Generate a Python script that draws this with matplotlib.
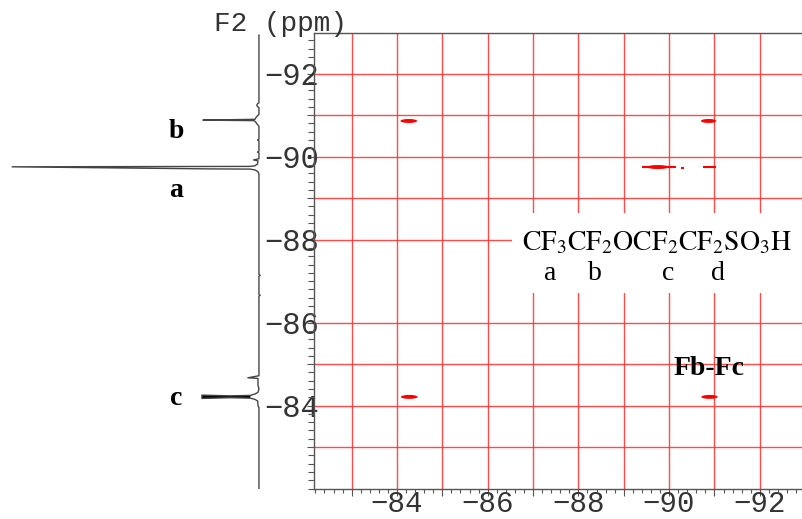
import matplotlib
matplotlib.use("Agg")
import matplotlib.pyplot as plt
from matplotlib.patches import Ellipse, Rectangle
from matplotlib.ticker import FixedLocator, MultipleLocator, NullFormatter

plt.rcParams["mathtext.fontset"] = "stix"

# F1 axis (bottom) / F2 axis (left), ppm
x_lim = (-82.17, -92.93)
y_lim = (-81.99, -92.98)
grid_x = [-83, -84, -85, -86, -87, -88, -89, -90, -91, -92]
grid_y = [-83, -84, -85, -86, -88, -89, -90, -91, -92]
label_x = [-84, -86, -88, -90, -92]
label_y = [-84, -86, -88, -90, -92]

# cross peaks: centre (F1, F2), extent in ppm
peak_x = [-84.26, -90.87, -89.75, -84.27, -90.89]
peak_y = [-90.86, -90.86, -89.75, -84.21, -84.21]
peak_w = [0.37, 0.34, 0.48, 0.37, 0.36]
# weak streaks
weak_x0 = [-89.40, -90.74, -90.26]
weak_x1 = [-90.15, -91.03, -90.32]
weak_y = [-89.75, -89.75, -89.73]

# 1D F2 projection (ppm, relative intensity)
trace_ppm = [-92.93, -91.30, -91.26, -91.22, -91.18, -91.02, -90.96, -90.90,
             -90.88, -90.868, -90.84, -90.79, -90.73,
             -90.42, -90.40, -90.38, -90.13, -90.11, -90.09,
             -89.95, -89.92, -89.90, -89.82, -89.78, -89.765, -89.755,
             -89.705, -89.70, -89.68, -89.64, -89.58,
             -87.16, -87.14, -87.12, -86.68, -86.66, -86.64,
             -84.72, -84.67, -84.655, -84.50, -84.40,
             -84.32, -84.28, -84.245, -84.235, -84.253, -84.173, -84.19,
             -84.18, -84.15, -84.11, -84.00, -83.95, -81.99]
trace_int = [0, 0, 0.8, 0.8, 0, 0, 1.0, 1.6,
             22.7, 2.0, 1.4, 0.8, 0,
             0, 0.6, 0, 0, 0.6, 0,
             0, 2.2, 0.4, 0.6, 1.6, 3.6, 100,
             20.6, 3.6, 1.6, 0.4, 0,
             0, -0.5, 0, 0, -0.5, 0,
             0, 4.5, 0.4, 0.4, 0,
             0.4, 1.6, 3.5, 11.7, 23.1, 23.1, 11.7,
             3.5, 1.6, 0.5, 0.4, 0, 0]

proj_labels = ["a", "b", "c"]
proj_label_ppm = [-89.19, -90.61, -84.18]

site_labels = ["a", "b", "c", "d"]
site_label_px = [550, 595, 668, 718]

W, H = 802, 519
fig = plt.figure(figsize=(W / 100, H / 100), dpi=100)

ax_bottom = (H - 489) / H
ax_height = 456 / H

# projection on the left
ax1 = fig.add_axes([0, ax_bottom, 314 / W, ax_height])
ax1.set_xlim(104.9, -22.3)
ax1.set_ylim(*y_lim)
ax1.axis("off")
ax1.plot(trace_int, trace_ppm, color="#444444", lw=1.0)
tip = [i for i in range(len(trace_ppm))
       if -84.26 < trace_ppm[i] < -84.17 and trace_int[i] > 3]
ax1.fill([trace_int[i] for i in tip], [trace_ppm[i] for i in tip],
         color="black", lw=0)
for lab, yy in zip(proj_labels, proj_label_ppm):
    ax1.text(33.5, yy, lab, ha="center", va="center", fontsize=20,
             fontweight="bold", family="Liberation Serif")

# 2D map
ax = fig.add_axes([314 / W, ax_bottom, (W - 314) / W, ax_height])
ax.set_xlim(*x_lim)
ax.set_ylim(*y_lim)

for xx, yy, w in zip(peak_x, peak_y, peak_w):
    ax.add_patch(Ellipse((xx, yy), w, 0.095, color="red", lw=0, zorder=3))
ax.hlines(weak_y, weak_x0, weak_x1, color="red", lw=1.5, zorder=3)

ax.xaxis.set_major_locator(FixedLocator(grid_x))
ax.yaxis.set_major_locator(FixedLocator(grid_y))
ax.xaxis.set_minor_locator(MultipleLocator(0.2))
ax.yaxis.set_minor_locator(MultipleLocator(0.2))
ax.set_xticklabels(["\u2212%d" % -v if v in label_x else "" for v in grid_x])
ax.set_yticklabels(["\u2212%d" % -v if v in label_y else "" for v in grid_y])
ax.yaxis.set_minor_formatter(NullFormatter())
ax.xaxis.set_minor_formatter(NullFormatter())
ax.grid(True, which="major", color="#ff2a2a", lw=1.0, alpha=0.85)
ax.set_axisbelow(True)

for s in ["left", "bottom", "top"]:
    ax.spines[s].set_color("#555555")
    ax.spines[s].set_linewidth(1.0)
ax.spines["right"].set_visible(False)

ax.tick_params(axis="y", which="major", length=5, width=0.8, color="#555555",
               pad=-8.5, labelsize=22, labelcolor="#333333")
ax.tick_params(axis="y", which="minor", length=4, width=0.8, color="#555555")
ax.tick_params(axis="x", which="major", length=5, width=0.8, color="#555555",
               pad=-4.0, labelsize=21, labelcolor="#333333")
ax.tick_params(axis="x", which="minor", length=3, width=0.8, color="#555555")
for t in ax.get_xticklabels() + ax.get_yticklabels():
    t.set_family("Liberation Mono")

# white box behind the formula
ax.add_patch(Rectangle(((512 - 314) / 488, (H - 293 - 30) / 456),
                       1.0, 80 / 456, transform=ax.transAxes,
                       facecolor="white", edgecolor="none", zorder=2))

fig.text(522 / W, 1 - 250 / H, r"$\mathrm{CF_3CF_2OCF_2CF_2SO_3H}$",
         fontsize=20, va="baseline", ha="left", zorder=5)
for lab, px in zip(site_labels, site_label_px):
    fig.text(px / W, 1 - 273 / H, lab, fontsize=20, ha="center", va="center",
             family="Liberation Serif", zorder=5)

ax.text(-90.89, -84.90, "Fb-Fc", fontsize=20, fontweight="bold",
        family="Liberation Serif", ha="center", va="center", zorder=5)

fig.text(280 / W, 1 - 24 / H, "F2 (ppm)", fontsize=20, ha="center",
         va="center", family="Liberation Mono", color="#333333")

fig.savefig("out.png", dpi=100)
